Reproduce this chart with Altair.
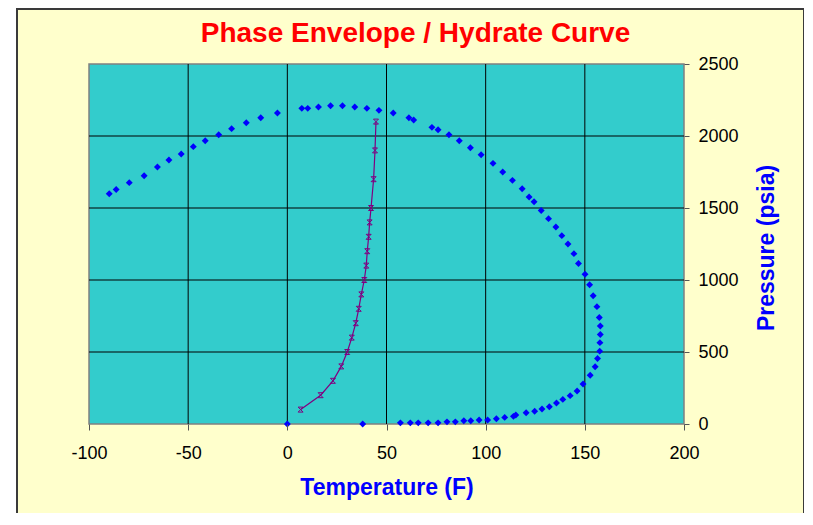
import altair as alt
import pandas as pd

title_text = "Phase Envelope / Hydrate Curve"
x_title = "Temperature (F)"
y_title = "Pressure (psia)"
x_ticks = [-100, -50, 0, 50, 100, 150, 200]
y_ticks = [0, 500, 1000, 1500, 2000, 2500]

# Phase envelope (blue diamonds)
env_T = [0, 38, 57, 62, 66, 71, 76, 80.5, 84.7, 89, 92.5, 96.7, 101, 105.4, 109.6,
         114, 115.2, 120.4, 124.7, 128.4, 132.1, 135.7, 138.9, 142.6, 146.1, 149.1,
         152.7, 155.2, 156.4, 157.5, 157.6, 157.8, 157.8, 157.3, 156.1, 154.2, 152.4,
         150.1, 146.8, 144.5, 141.5, 138.4, 135.4, 131.7, 128.0, 124.4, 121.9, 118.4,
         113.5, 108.6, 103.7, 97.7, 92.3, 86.7, 81.5, 76.0, 72.9, 63.7, 61.3, 53.4,
         46.2, 40.1, 34.0, 27.8, 21.8, 15.7, 10.3, 7.3, -5.0, -13.4, -20.7, -28.1,
         -34.6, -41.4, -47.4, -53.5, -59.7, -65.5, -72.2, -79.7, -86.3, -89.8]
env_P = [0, 0, 8, 8, 8, 8, 8, 15, 15, 22, 22, 28, 28, 37, 46,
         53, 62, 78, 88, 104, 120, 146, 171, 197, 229, 278,
         338, 398, 455, 506, 565, 622, 680, 740, 815, 891, 967,
         1040, 1115, 1183, 1250, 1308, 1368, 1426, 1483, 1544, 1576, 1634,
         1692, 1750, 1810, 1870, 1919, 1967, 2009, 2044, 2060, 2111, 2127, 2160,
         2178, 2192, 2201, 2210, 2210, 2201, 2192, 2192, 2160, 2127, 2092, 2051,
         2009, 1967, 1926, 1875, 1833, 1785, 1724, 1676, 1628, 1599]

# Hydrate curve (purple line)
hyd_T = [6.7, 16.8, 23.0, 27.2, 30.2, 32.5, 34.5, 36.0, 37.3, 38.8, 39.8, 40.3,
         41.0, 41.5, 42.2, 43.5, 44.2, 44.7]
hyd_P = [100, 200, 300, 400, 500, 600, 700, 800, 900, 1000, 1100, 1200,
         1300, 1400, 1500, 1700, 1900, 2100]

W, H = 595, 360
FONT = "Liberation Sans, Arial, sans-serif"

env = pd.DataFrame({"T": env_T, "P": env_P})
hyd = pd.DataFrame({"T": hyd_T, "P": hyd_P, "i": list(range(len(hyd_T)))})
xgrid = pd.DataFrame({"T": x_ticks[1:-1]})
ygrid = pd.DataFrame({"P": y_ticks[1:-1]})
one = pd.DataFrame({"t": [title_text]})

xs = alt.Scale(domain=[-100, 200], nice=False, zero=False)
ys = alt.Scale(domain=[0, 2500], nice=False, zero=False)

x_axis = alt.Axis(values=x_ticks, title=x_title, grid=False, domain=False, zindex=1,
                  labelExpr="'' + datum.value",
                  tickSize=6, tickColor="#555555", tickWidth=1,
                  labelFont=FONT, labelFontSize=18, labelColor="#000000",
                  labelPadding=14, labelFlush=False,
                  titleFont=FONT, titleFontSize=23, titleFontWeight="bold",
                  titleColor="#0000FF", titleBaseline="alphabetic",
                  titleX=W / 2, titleY=70, titleAlign="center")
y_axis = alt.Axis(values=y_ticks, title=y_title, orient="right", grid=False, zindex=1,
                  labelExpr="'' + datum.value",
                  domain=False, tickSize=5, tickColor="#555555", tickWidth=1,
                  labelFont=FONT, labelFontSize=18, labelColor="#000000",
                  labelPadding=9, labelFlush=False, labelAlign="left",
                  titleFont=FONT, titleFontSize=23, titleFontWeight="bold",
                  titleColor="#0000FF", titleAngle=270, titleBaseline="alphabetic",
                  titleAlign="center", titleX=89, titleY=183.5)

X = alt.X("T:Q", scale=xs, axis=x_axis)
Y = alt.Y("P:Q", scale=ys, axis=y_axis)

frame = alt.Chart(one).mark_rect(fill="#FFFFCC", stroke="#3a3a3a", strokeWidth=2).encode(
    x=alt.value(-72), x2=alt.value(715), y=alt.value(-55), y2=alt.value(470))
plotbg = alt.Chart(one).mark_rect(fill="#33CCCC", stroke="#808080", strokeWidth=1.5).encode(
    x=alt.value(0), x2=alt.value(W), y=alt.value(0), y2=alt.value(H))
vgrid = alt.Chart(xgrid).mark_rule(color="#000000", strokeWidth=1).encode(x=X)
hgrid = alt.Chart(ygrid).mark_rule(color="#000000", strokeWidth=1).encode(y=Y)

env_pts = alt.Chart(env).mark_point(shape="diamond", size=48, filled=True,
                                     color="#0000FF", opacity=1).encode(x=X, y=Y)
hyd_line = alt.Chart(hyd).mark_line(color="#800080", strokeWidth=1.2).encode(
    x=X, y=Y, order="i:Q")
hyd_pts = alt.Chart(hyd).mark_point(shape="M-1,-1L1,-1L-1,1L1,1Z", size=25, filled=False,
                                     color="#800080", strokeWidth=1, opacity=1).encode(x=X, y=Y)

title = alt.Chart(one).mark_text(font=FONT, fontSize=28, fontWeight="bold",
                                 color="#FF0000", align="center",
                                 baseline="alphabetic").encode(
    x=alt.value(326.5), y=alt.value(-22), text="t:N")

chart = alt.layer(frame, plotbg, vgrid, hgrid, env_pts, hyd_line, hyd_pts, title).properties(
    width=W, height=H,
    padding={"left": 81, "top": 56, "right": 120, "bottom": 89},
    autosize=alt.AutoSizeParams(type="none"),
    background="white",
).configure_view(stroke=None)

chart.save("out.html", embed_options={"renderer": "svg", "actions": False})
